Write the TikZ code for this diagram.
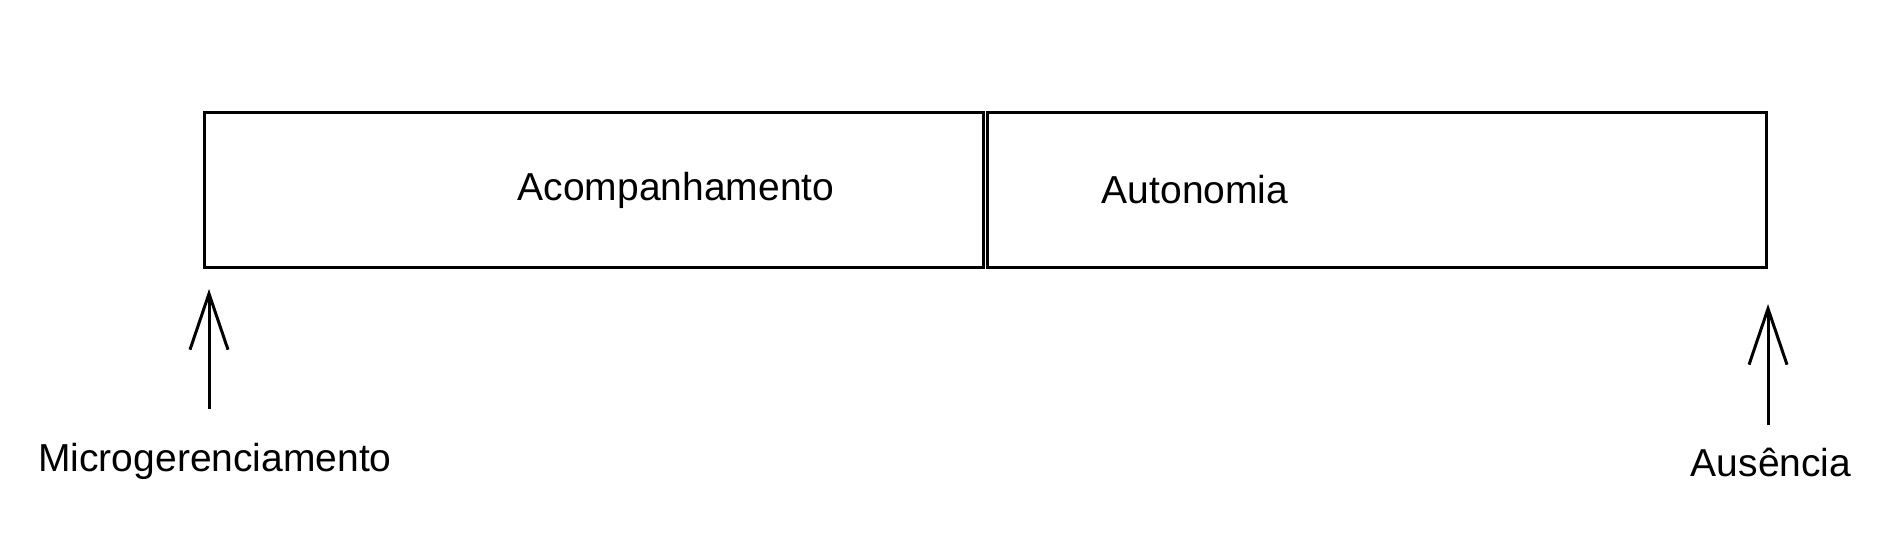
\documentclass[tikz,border=0pt]{standalone}
\usepackage{fontspec}
\setmainfont{Liberation Sans}
\usetikzlibrary{arrows.meta}

\begin{document}
\begin{tikzpicture}[
    x = 0.5pt,
    y = -0.5pt,
    >={Straight Barb[length=28pt,width=19pt]},
    phase/.style = {rectangle, draw=black, line width=1.5pt,
              minimum width=389.5pt, minimum height=77.5pt,
              inner sep=0pt, outer sep=0pt},
    tag/.style = {anchor=base, inner sep=0pt,
              font=\fontsize{19.5}{23}\selectfont},
    ]
\useasboundingbox (0,0) rectangle (1904,558);

\node[phase] (phase_1) at (593.5,189.5){};
\node[phase] (phase_2) at (1376.5,189.5){};
\node[tag] (txt_1) at (676,200){Acompanhamento};
\node[tag] (txt_2) at (1195,203){Autonomia};

\node[tag] (micro) at (215,471){Microgerenciamento};
\node[tag] (ausen) at (1771,476){Ausência};
\coordinate (micro_tail) at (209,409);
\coordinate (micro_tip) at (209,289);
\coordinate (ausen_tail) at (1768,425);
\coordinate (ausen_tip) at (1768,304);
\draw [black, ->, line width=1.5pt] (micro_tail) -- (micro_tip);
\draw [black, ->, line width=1.5pt] (ausen_tail) -- (ausen_tip);

\end{tikzpicture}
\end{document}
